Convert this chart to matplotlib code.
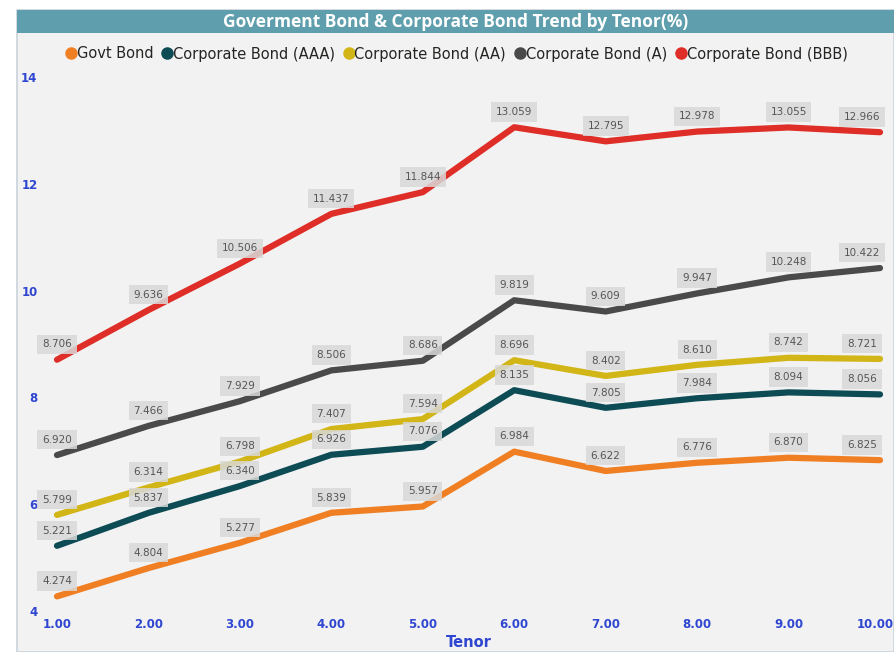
import matplotlib
matplotlib.use("Agg")
import matplotlib.pyplot as plt
from matplotlib.patches import Rectangle
from matplotlib.lines import Line2D
from matplotlib.transforms import ScaledTranslation

tenor = [1, 2, 3, 4, 5, 6, 7, 8, 9, 10]
tick_labels = ["1.00", "2.00", "3.00", "4.00", "5.00", "6.00", "7.00", "8.00", "9.00", "10.00"]
govt = [4.274, 4.804, 5.277, 5.839, 5.957, 6.984, 6.622, 6.776, 6.870, 6.825]
aaa = [5.221, 5.837, 6.340, 6.926, 7.076, 8.135, 7.805, 7.984, 8.094, 8.056]
aa = [5.799, 6.314, 6.798, 7.407, 7.594, 8.696, 8.402, 8.610, 8.742, 8.721]
a = [6.920, 7.466, 7.929, 8.506, 8.686, 9.819, 9.609, 9.947, 10.248, 10.422]
bbb = [8.706, 9.636, 10.506, 11.437, 11.844, 13.059, 12.795, 12.978, 13.055, 12.966]
series_names = ["Govt Bond", "Corporate Bond (AAA)", "Corporate Bond (AA)",
                "Corporate Bond (A)", "Corporate Bond (BBB)"]
series = [govt, aaa, aa, a, bbb]
colors = ["#F07F23", "#0D4B55", "#D2B516", "#4A4A4A", "#DE2E27"]
yticks = [4, 6, 8, 10, 12, 14]

W, H = 894, 652
fig = plt.figure(figsize=(W / 100, H / 100), dpi=100)
fig.patch.set_facecolor("white")

# panel background
fig.patches.append(Rectangle((17 / W, 0), 1 - 17 / W, 1 - 10 / H, transform=fig.transFigure,
                             facecolor="#F2F2F2", edgecolor="#C9D3DA", linewidth=1.2, zorder=-5))
# title bar
fig.patches.append(Rectangle((17 / W, 1 - 33 / H), 1 - 17 / W, 23 / H, transform=fig.transFigure,
                             facecolor="#5E9EAD", edgecolor="none", zorder=-4))
fig.text((17 + W) / 2 / W, 1 - 22 / H, "Goverment Bond & Corporate Bond Trend by Tenor(%)",
         ha="center", va="center", color="white", fontsize=12.5, fontweight="bold",
         family="Open Sans")

ax = fig.add_axes([57 / W, 1 - 611 / H, (880 - 57) / W, (611 - 77) / H])
ax.set_facecolor("none")
ax.set_xlim(1, 10)
ax.set_ylim(4, 14)
for s in ax.spines.values():
    s.set_visible(False)

for vals, col in zip(series, colors):
    ax.plot(tenor, vals, color=col, linewidth=4.5, solid_capstyle="round",
            solid_joinstyle="round", clip_on=False, zorder=3)
    for i, (x, v) in enumerate(zip(tenor, vals)):
        dx = -13 if i == len(tenor) - 1 else 0
        ax.annotate(f"{v:.3f}", (x, v), xytext=(dx, 11), textcoords="offset points",
                    ha="center", va="center", fontsize=7.5, color="#555555",
                    bbox=dict(boxstyle="square,pad=0.45", facecolor="#D9D9D9",
                              edgecolor="none", alpha=0.85),
                    zorder=4, annotation_clip=False)

ax.set_xticks(tenor)
ax.set_xticklabels(tick_labels)
ax.set_yticks(yticks)
ax.set_yticklabels([str(t) for t in yticks])
ax.tick_params(axis="both", length=0, colors="#2F46D0", labelsize=8.5)
for lbl in ax.get_xticklabels() + ax.get_yticklabels():
    lbl.set_fontweight("bold")
ax.tick_params(axis="x", pad=5)
ax.tick_params(axis="y", pad=14)
last = ax.get_xticklabels()[-1]
last.set_transform(last.get_transform() + ScaledTranslation(-5 / 100, 0, fig.dpi_scale_trans))
ax.set_xlabel("Tenor", color="#2F46D0", fontsize=10.5, fontweight="bold", labelpad=3)

handles = [Line2D([], [], marker="o", linestyle="none", markersize=8,
                  markerfacecolor=c, markeredgecolor=c) for c in colors]
leg = fig.legend(handles, series_names, loc="center", bbox_to_anchor=((17 + W) / 2 / W, 1 - 54 / H),
                 ncol=5, frameon=False, prop=dict(size=10.5),
                 handletextpad=-0.1, columnspacing=0.45,
                 handlelength=1.0, borderaxespad=0)
for t in leg.get_texts():
    t.set_color("#252423")

fig.savefig("out.png", dpi=100, facecolor=fig.get_facecolor())
